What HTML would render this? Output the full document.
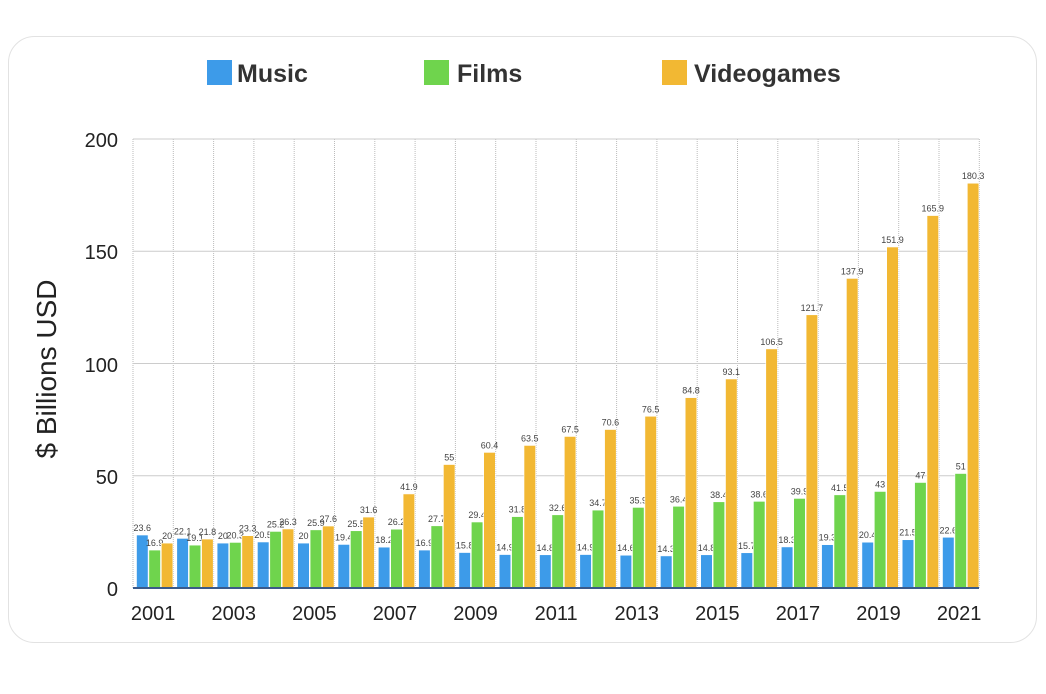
<!DOCTYPE html>
<html><head><meta charset="utf-8"><style>
html,body{margin:0;padding:0;background:#fff;}
svg{display:block;}
</style></head><body>
<svg width="1046" height="694" xmlns="http://www.w3.org/2000/svg" font-family="Liberation Sans, sans-serif">
<rect x="8.5" y="36.5" width="1028" height="606" rx="26" fill="#fff" stroke="#e2e2e2"/>
<g font-weight="bold" font-size="25" fill="#333">
<rect x="207" y="60" width="25" height="25" fill="#3d9be9"/><text x="237" y="82">Music</text>
<rect x="424" y="60" width="25" height="25" fill="#6fd44d"/><text x="457" y="82">Films</text>
<rect x="662" y="60" width="25" height="25" fill="#f2b833"/><text x="694" y="82">Videogames</text>
</g>
<text transform="translate(56,369) rotate(-90)" text-anchor="middle" font-size="28" fill="#222">$ Billions USD</text>
<g font-size="20" fill="#222" text-anchor="end">
<text x="118" y="147">200</text><text x="118" y="259">150</text><text x="118" y="372">100</text><text x="118" y="484">50</text><text x="118" y="596">0</text>
</g>
<g id="chart"></g>
</svg>
<script>
const music=[23.6,22.1,20,20.5,20,19.4,18.2,16.9,15.8,14.9,14.8,14.9,14.6,14.3,14.8,15.7,18.3,19.3,20.4,21.5,22.6];
const films=[16.9,19.1,20.3,25.2,25.9,25.5,26.2,27.7,29.4,31.8,32.6,34.7,35.9,36.4,38.4,38.6,39.9,41.5,43,47,51];
const games=[20,21.8,23.3,26.3,27.6,31.6,41.9,55,60.4,63.5,67.5,70.6,76.5,84.8,93.1,106.5,121.7,137.9,151.9,165.9,180.3];
const X0=133,W=40.3,Y0=588,K=2.245;
let s='';
for(let i=0;i<=21;i++){const x=X0+i*W;s+=`<line x1="${x}" y1="139" x2="${x}" y2="588" stroke="#bbb" stroke-dasharray="1,1"/>`;}
for(let v=50;v<=200;v+=50){const y=Y0-v*K;s+=`<line x1="${X0}" y1="${y}" x2="979" y2="${y}" stroke="#ccc"/>`;}
const cols=['#3d9be9','#6fd44d','#f2b833'];
[music,films,games].forEach((d,j)=>{d.forEach((v,i)=>{const x=X0+i*W+3.5+j*12.4;const h=v*K;
s+=`<rect x="${x}" y="${Y0-h}" width="11.6" height="${h}" fill="${cols[j]}" stroke="#fff" stroke-width="0.6"/>`;
s+=`<text x="${x+5.8}" y="${Y0-h-4}" font-size="9" fill="#444" text-anchor="middle">${v}</text>`;});});
s+=`<line x1="${X0}" y1="588" x2="979" y2="588" stroke="#3a5a8a" stroke-width="2"/>`;
for(let i=0;i<21;i+=2){s+=`<text x="${X0+i*W+W/2}" y="620" font-size="20" fill="#222" text-anchor="middle">${2001+i}</text>`;}
document.getElementById('chart').innerHTML=s;
</script>
</body></html>
